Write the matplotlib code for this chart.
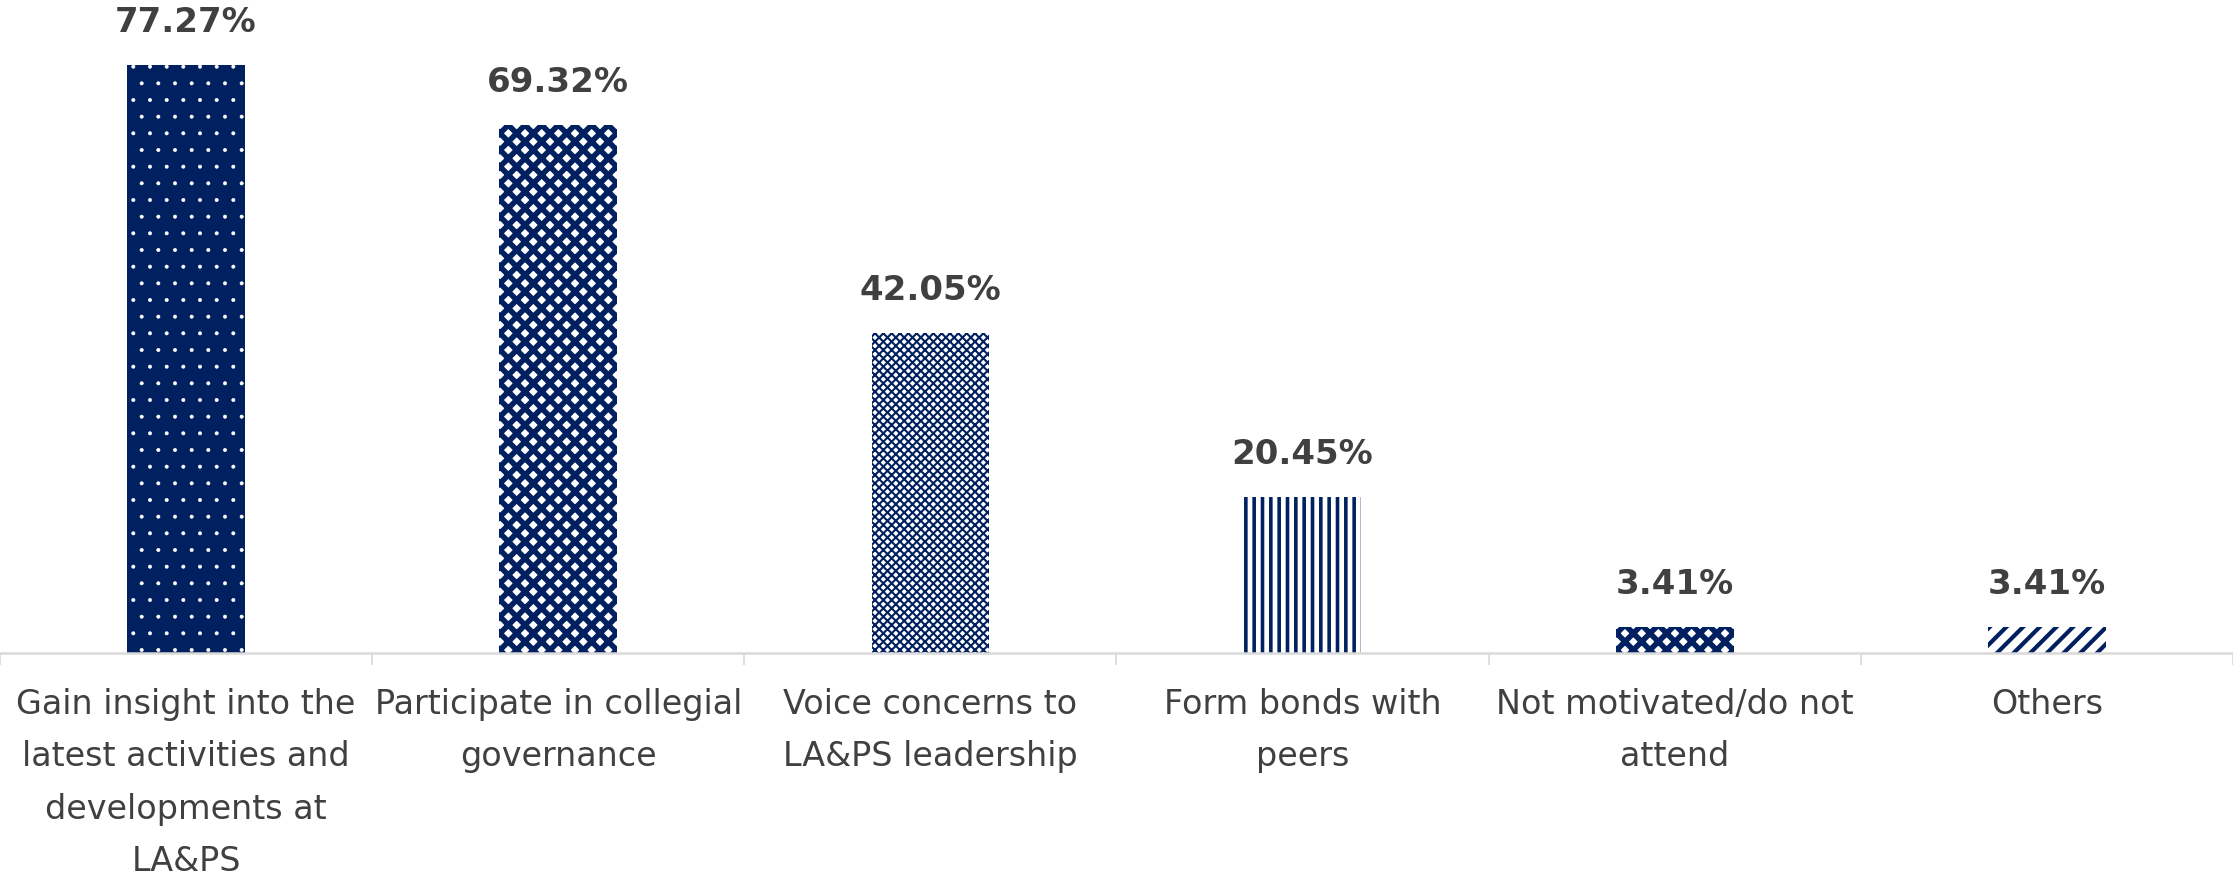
import matplotlib
matplotlib.use('Agg')
import matplotlib as mpl
import matplotlib.pyplot as plt

categories = [
    "Gain insight into the\nlatest activities and\ndevelopments at\nLA&PS",
    "Participate in collegial\ngovernance",
    "Voice concerns to\nLA&PS leadership",
    "Form bonds with\npeers",
    "Not motivated/do not\nattend",
    "Others",
]
values = [77.27, 69.32, 42.05, 20.45, 3.41, 3.41]
value_labels = ["77.27%", "69.32%", "42.05%", "20.45%", "3.41%", "3.41%"]

NAVY = '#002060'
TEXT = '#404040'
GRID = '#d9d9d9'

styles = [
    dict(face=NAVY, hc='white', hatch='.', hlw=0.4),
    dict(face='white', hc=NAVY, hatch='xx', hlw=4.0),
    dict(face='white', hc=NAVY, hatch='xxxx', hlw=1.5),
    dict(face='white', hc=NAVY, hatch='||', hlw=2.6),
    dict(face='white', hc=NAVY, hatch='xx', hlw=4.0),
    dict(face='white', hc=NAVY, hatch='//', hlw=3.0),
]

plt.rcParams['font.family'] = ['DejaVu Sans']

W, H = 2233, 876
fig = plt.figure(figsize=(W / 100, H / 100), dpi=100)
ax = fig.add_axes([0, 223 / H, 1, 653 / H])
ax.set_xlim(-0.5, len(categories) - 0.5)
ax.set_ylim(0, 653 / 7.61)

xs = list(range(len(categories)))
for x, v, st in zip(xs, values, styles):
    with mpl.rc_context({'hatch.linewidth': st['hlw']}):
        b = ax.bar(x, v, width=0.316, color=st['face'], edgecolor=st['hc'],
                   linewidth=0, hatch=st['hatch'])
    for p in b.patches:
        if hasattr(p, 'set_hatch_linewidth'):
            p.set_hatch_linewidth(st['hlw'])

for x, v, lab in zip(xs, values, value_labels):
    ax.annotate(lab, (x, v), xytext=(0, 24), textcoords='offset points',
                ha='center', va='baseline', fontsize=24.5, fontweight='bold',
                color=TEXT)

for s in ['left', 'right', 'top']:
    ax.spines[s].set_visible(False)
ax.spines['bottom'].set_color(GRID)
ax.spines['bottom'].set_linewidth(1.8)
ax.yaxis.set_visible(False)

ax.set_xticks(xs)
ax.set_xticklabels(categories, fontsize=24, color=TEXT, linespacing=1.75)
ax.tick_params(axis='x', which='major', length=0, pad=25)
ax.set_xticks([i - 0.5 for i in range(len(categories) + 1)], minor=True)
ax.tick_params(axis='x', which='minor', length=8.6, width=1.2, color=GRID)

fig.savefig('out.png', dpi=100)
